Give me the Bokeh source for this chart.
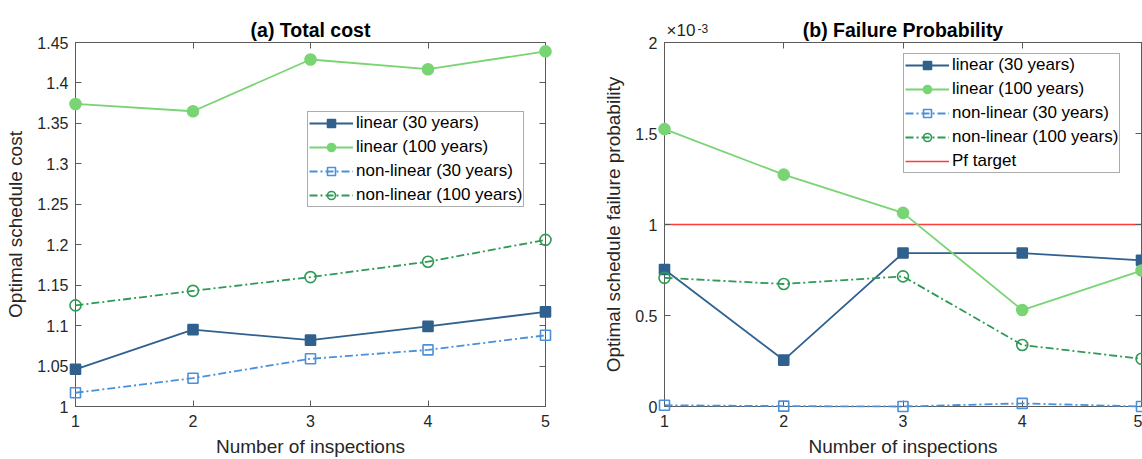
from bokeh.plotting import figure
from bokeh.models import LinearAxis, FixedTicker, CustomJSTickFormatter
from bokeh.core.properties import value
from bokeh.layouts import row
from bokeh.embed import file_html
from bokeh.resources import INLINE

# ---------------- data ----------------
inspections = [1, 2, 3, 4, 5]

cost_linear_30 = [1.046, 1.095, 1.082, 1.099, 1.117]
cost_linear_100 = [1.374, 1.365, 1.429, 1.417, 1.439]
cost_nonlinear_30 = [1.017, 1.035, 1.059, 1.070, 1.088]
cost_nonlinear_100 = [1.125, 1.143, 1.160, 1.179, 1.206]

# failure probability, in units of 1e-3
pf_linear_30 = [0.753, 0.255, 0.843, 0.843, 0.803]
pf_linear_100 = [1.524, 1.274, 1.064, 0.530, 0.747]
pf_nonlinear_30 = [0.007, 0.002, 0.0, 0.017, 0.0]
pf_nonlinear_100 = [0.707, 0.673, 0.715, 0.338, 0.262]
pf_target = [1.0, 1.0, 1.0, 1.0, 1.0]

x_ticks = [1, 2, 3, 4, 5]
cost_ticks = [1.0, 1.05, 1.1, 1.15, 1.2, 1.25, 1.3, 1.35, 1.4, 1.45]
cost_tick_labels = ["1", "1.05", "1.1", "1.15", "1.2", "1.25", "1.3", "1.35", "1.4", "1.45"]
pf_ticks = [0, 0.5, 1, 1.5, 2]
pf_tick_labels = ["0", "0.5", "1", "1.5", "2"]
pf_exponent = ["\u00d710", "-3"]

names = ["linear (30 years)", "linear (100 years)", "non-linear (30 years)", "non-linear (100 years)", "Pf target"]

# ---------------- styles ----------------
C_LIN30 = "#30618E"
C_LIN100 = "#79D474"
C_NL30 = "#4A90DA"
C_NL100 = "#2E9A55"
C_RED = "#FF3B3B"
FONT = "Liberation Sans"
AX = "#262626"
FRAME = "#5a5a5a"
DASH = "8 3 2 3"
H = 459


def style_axis(ax):
    ax.axis_line_color = FRAME
    ax.major_tick_line_color = FRAME
    ax.minor_tick_line_color = None
    ax.major_tick_in = 6
    ax.major_tick_out = 0
    ax.major_label_text_font = FONT
    ax.major_label_text_font_size = "16px"
    ax.major_label_text_color = AX
    ax.axis_label_text_font = FONT
    ax.axis_label_text_font_size = "19px"
    ax.axis_label_text_font_style = "normal"
    ax.axis_label_text_color = AX


def make_fig(width, title, yr, ticks, labels, bl, br, xlabel, ylabel):
    p = figure(width=width, height=H, x_range=(1, 5), y_range=yr,
               output_backend="svg", toolbar_location=None,
               min_border_left=bl, min_border_right=br,
               min_border_top=42, min_border_bottom=53)
    p.title.text = title
    p.title.align = "center"
    p.title.text_font = FONT
    p.title.text_font_size = "19.5px"
    p.title.text_font_style = "bold"
    p.title.text_color = "#000000"
    p.title.standoff = 4
    p.grid.visible = False
    p.outline_line_color = FRAME
    p.background_fill_color = "white"
    p.border_fill_color = "white"

    p.xaxis.ticker = FixedTicker(ticks=x_ticks)
    p.yaxis.ticker = FixedTicker(ticks=ticks)
    p.yaxis.major_label_overrides = {t: l for t, l in zip(ticks, labels)}
    p.xaxis.axis_label = xlabel
    p.yaxis.axis_label = ylabel
    p.xaxis.major_label_standoff = 8
    p.yaxis.major_label_standoff = 7
    p.xaxis.axis_label_standoff = 6
    p.yaxis.axis_label_standoff = 8
    for ax in p.xaxis + p.yaxis:
        style_axis(ax)

    blank = CustomJSTickFormatter(code="return ''")
    top = LinearAxis(ticker=FixedTicker(ticks=x_ticks), formatter=blank)
    style_axis(top)
    top.major_label_standoff = 0
    right = LinearAxis(ticker=FixedTicker(ticks=ticks), formatter=blank)
    style_axis(right)
    right.major_label_standoff = 0
    p.add_layout(top, "above")
    p.add_layout(right, "right")
    return p


def add_series(p, ys, color, dash, marker, filled, label):
    r1 = p.line(inspections, ys, line_color=color, line_width=1.8, line_dash=dash, legend_label=label)
    r2 = p.scatter(inspections, ys, marker=marker, size=11 if marker == "circle" else 10,
                   line_color=color, line_width=1.6,
                   fill_color=color if filled else None, legend_label=label)
    r1.level = "overlay"
    r2.level = "overlay"


def style_legend(p, loc):
    lg = p.legend[0]
    lg.location = loc
    lg.label_text_font = FONT
    lg.label_text_font_size = "17px"
    lg.label_text_color = "#000000"
    lg.glyph_width = 44
    lg.glyph_height = 20
    lg.label_height = 20
    lg.label_standoff = 3
    lg.spacing = 4
    lg.padding = 1
    lg.margin = 0
    lg.border_line_color = FRAME
    lg.border_line_width = 1
    lg.background_fill_alpha = 1
    lg.click_policy = "none"


# ---------------- (a) Total cost ----------------
p1 = make_fig(600, "(a) Total cost", (cost_ticks[0], cost_ticks[-1]), cost_ticks, cost_tick_labels, 75, 55,
              "Number of inspections", "Optimal schedule cost")
add_series(p1, cost_linear_30, C_LIN30, "solid", "square", True, names[0])
add_series(p1, cost_linear_100, C_LIN100, "solid", "circle", True, names[1])
add_series(p1, cost_nonlinear_30, C_NL30, DASH, "square", False, names[2])
add_series(p1, cost_nonlinear_100, C_NL100, DASH, "circle", False, names[3])
style_legend(p1, (232, 199))

# ---------------- (b) Failure probability ----------------
p2 = make_fig(542, "(b) Failure Probability", (pf_ticks[0], pf_ticks[-1]), pf_ticks, pf_tick_labels, 63, 1,
              "Number of inspections", "Optimal schedule failure probability")
add_series(p2, pf_linear_30, C_LIN30, "solid", "square", True, names[0])
add_series(p2, pf_linear_100, C_LIN100, "solid", "circle", True, names[1])
add_series(p2, pf_nonlinear_30, C_NL30, DASH, "square", False, names[2])
add_series(p2, pf_nonlinear_100, C_NL100, DASH, "circle", False, names[3])
rt = p2.line(inspections, pf_target, line_color=C_RED, line_width=1.6, legend_label=names[4])
style_legend(p2, (239, 233))

# axis exponent (x10^-3) at the top-left corner of the axes
e1 = p2.text(x=[x_ticks[0]], y=[pf_ticks[-1]], text=[pf_exponent[0]], x_offset=2, y_offset=-3,
             text_font=value(FONT), text_font_size=value("17px"), text_color=AX,
             text_baseline="bottom", text_align="left")
e2 = p2.text(x=[x_ticks[0]], y=[pf_ticks[-1]], text=[pf_exponent[1]], x_offset=33, y_offset=-10,
             text_font=value(FONT), text_font_size=value("12px"), text_color=AX,
             text_baseline="bottom", text_align="left")
e1.level = "overlay"
e2.level = "overlay"

layout = row(p1, p2)
open("out.html", "w").write(file_html(layout, INLINE))
